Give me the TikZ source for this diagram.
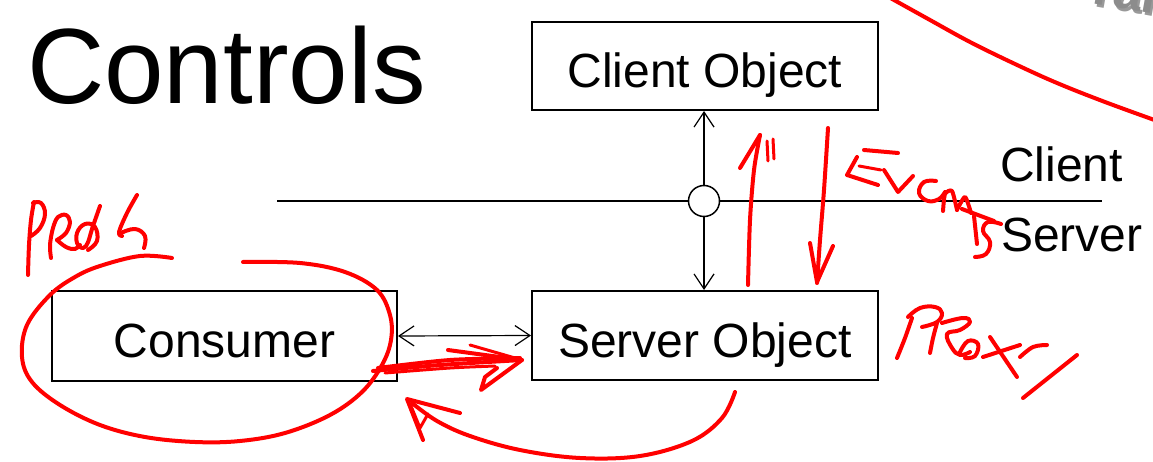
\documentclass[tikz,border=0pt]{standalone}
\usepackage{fontspec}
\setmainfont{Liberation Sans}
\usetikzlibrary{arrows.meta}
\begin{document}
\begin{tikzpicture}[x=1pt,y=-1pt,
  box/.style={draw,line width=2pt,inner sep=0pt,font=\fontsize{48}{50}\selectfont,text height=43pt,text depth=0pt},
  lbl/.style={inner sep=0pt,font=\fontsize{48}{50}\selectfont},
  barb/.style={line width=1.2pt,-{Straight Barb[length=15pt,width=20pt]}},
  dbarb/.style={line width=1.2pt,{Straight Barb[length=15pt,width=20pt]}-{Straight Barb[length=15pt,width=20pt]}},
  ink/.style={draw=red,line width=4pt,line cap=round,line join=round},
  thinink/.style={draw=red,line width=3pt,line cap=round,line join=round},
  frag/.style={anchor=base west,inner sep=0pt,rotate=-10,font=\bfseries\fontsize{52}{54}\selectfont}]
\useasboundingbox (0,0) rectangle (1153,462);
\fill[white] (0,0) rectangle (1153,462);

% title
\node[anchor=base west,inner sep=0pt,font=\fontsize{107}{110}\selectfont] (title) at (27,104) {Controls};

% boxes
\node[box,minimum width=346pt,minimum height=88pt] (client) at (705,66) {Client Object};
\node[box,minimum width=345pt,minimum height=90pt] (consumer) at (224.5,336) {Consumer};
\node[box,minimum width=346pt,minimum height=89pt] (server) at (705,335.5) {Server Object};

% separator
\coordinate (sepL) at (277,201);
\coordinate (sepR) at (1102,201);
\draw[line width=2pt] (sepL) -- (sepR);
\node[draw,circle,line width=1.5pt,fill=white,minimum size=31pt,inner sep=0pt] (port) at (704,201) {};

\node[lbl,anchor=base west] (clientlbl) at (1000,182) {Client};
\node[lbl,anchor=base west] (serverlbl) at (1001,252) {Server};

% connectors
\draw[barb] (port.north) -- (port.north |- client.south);
\draw[barb] (port.south) -- (port.south |- server.north);
\draw[dbarb] (consumer.east) -- (server.west);

% grey fragment at top right (cut off by the edge)
\begin{scope}
\clip (0,0) rectangle (1153,462);
\node[frag,text=black!40] (fragsh) at (1093,6) {ral};
\node[frag,text=gray!90] (frag) at (1091,3) {ral};
\end{scope}

% ---- red annotations ----
% big arc top right
\draw[ink] plot[smooth,tension=0.6] coordinates {(885,-5) (930,20) (970,42) (1015,64) (1057,83) (1105,102) (1160,122)};

% PROG
\draw[ink] plot[smooth,tension=0.6] coordinates {(28,275) (29,245) (31,220) (34,202)};
\draw[ink] plot[smooth,tension=0.7] coordinates {(33,203) (41,203) (45,214) (40,228) (31,236)};
\draw[ink] plot[smooth,tension=0.6] coordinates {(51,258) (50,245) (53,228) (58,217) (66,215) (70,222) (66,233) (57,240)};
\draw[ink] plot[smooth,tension=0.7] coordinates {(57,240) (66,247) (75,249) (80,245)};
\draw[ink] plot[smooth,tension=0.7] coordinates {(100,206) (93,226) (86,246) (78,245) (77,233) (85,224) (95,227) (97,241) (88,250)};
\draw[ink] plot[smooth,tension=0.6] coordinates {(137,195) (127,213) (119,232) (122,236)};
\draw[ink] plot[smooth,tension=0.7] coordinates {(121,233) (135,229) (145,236) (144,248)};

% ellipse round Consumer
\draw[ink] plot[smooth,tension=0.6] coordinates {(243,262) (300,263) (345,272) (377,290) (390,315) (391,340) (382,365) (362,392) (330,415) (285,433) (240,441) (195,442) (145,437) (100,425) (60,405) (32,382) (22,357) (27,325) (50,295) (75,277) (100,266) (140,256) (172,258)};

% bold arrow consumer -> server
\draw[ink] plot[smooth,tension=0.5] coordinates {(373,371) (440,365) (522,360)};
\draw[ink] plot[smooth,tension=0.5] coordinates {(378,368) (450,360) (520,358)};
\draw[thinink] plot[smooth,tension=0.5] coordinates {(385,373) (450,368) (495,366)};
\draw[ink] (448,350) -- (522,360) -- (481,390) -- (485,377) -- (497,368);
\draw[thinink] (470,345) -- (522,360);

% curved arrow under
\draw[ink] plot[smooth,tension=0.6] coordinates {(735,392) (722,418) (692,441) (640,456) (580,458) (520,450) (470,436) (437,421) (412,403)};
\draw[ink] (460,413) -- (407,399) -- (423,440);
\draw[thinink] (411,406) -- (420,428) -- (428,414);

% up arrow
\draw[ink] plot[smooth,tension=0.5] coordinates {(748,285) (750,220) (754,170) (760,135)};
\draw[ink] (740,168) -- (760,135);
\draw[thinink] (767,141) -- (768,161);
\draw[thinink] (773,139) -- (774,159);

% down arrow
\draw[ink] plot[smooth,tension=0.5] coordinates {(828,128) (824,190) (820,240) (817,283)};
\draw[ink] (810,243) -- (817,282) -- (833,246);

% EVENTS
\draw[ink] (864,150) -- (898,153);
\draw[ink] (857,157) -- (847,175) -- (878,185);
\draw[thinink] (859,166) -- (881,170);
\draw[ink] (884,170) -- (898,192) -- (913,176);
\draw[ink] plot[smooth,tension=0.7] coordinates {(936,181) (924,182) (919,193) (928,201) (939,199) (945,192)};
\draw[ink] plot[smooth,tension=0.4] coordinates {(943,211) (945,194) (952,191) (957,210)};
\draw[ink] plot[smooth,tension=0.4] coordinates {(957,210) (965,197) (971,213)};
\draw[ink] (962,209) -- (994,221);
\draw[ink] (974,216) -- (977,244);
\draw[ink] plot[smooth,tension=0.7] coordinates {(1001,224) (988,222) (983,231) (990,242) (986,254) (975,257)};

% PROXY
\draw[ink] plot[smooth,tension=0.5] coordinates {(912,318) (905,338) (897,358)};
\draw[ink] plot[smooth,tension=0.7] coordinates {(908,317) (920,308) (935,307) (942,313) (937,322) (922,327)};
\draw[ink] plot[smooth,tension=0.5] coordinates {(937,323) (933,338) (930,353)};
\draw[ink] plot[smooth,tension=0.7] coordinates {(942,323) (963,318) (970,322) (960,330) (947,334) (952,348) (960,355) (970,352)};
\draw[ink] plot[smooth,tension=0.7] coordinates {(960,352) (968,341) (978,344) (975,356) (965,358)};
\draw[ink] (990,337) -- (1017,377);
\draw[ink] (983,357) -- (1020,345);
\draw[ink] plot[smooth,tension=0.6] coordinates {(1020,357) (1033,347) (1047,345)};
\draw[ink] (1077,355) -- (1023,398);
\end{tikzpicture}
\end{document}
